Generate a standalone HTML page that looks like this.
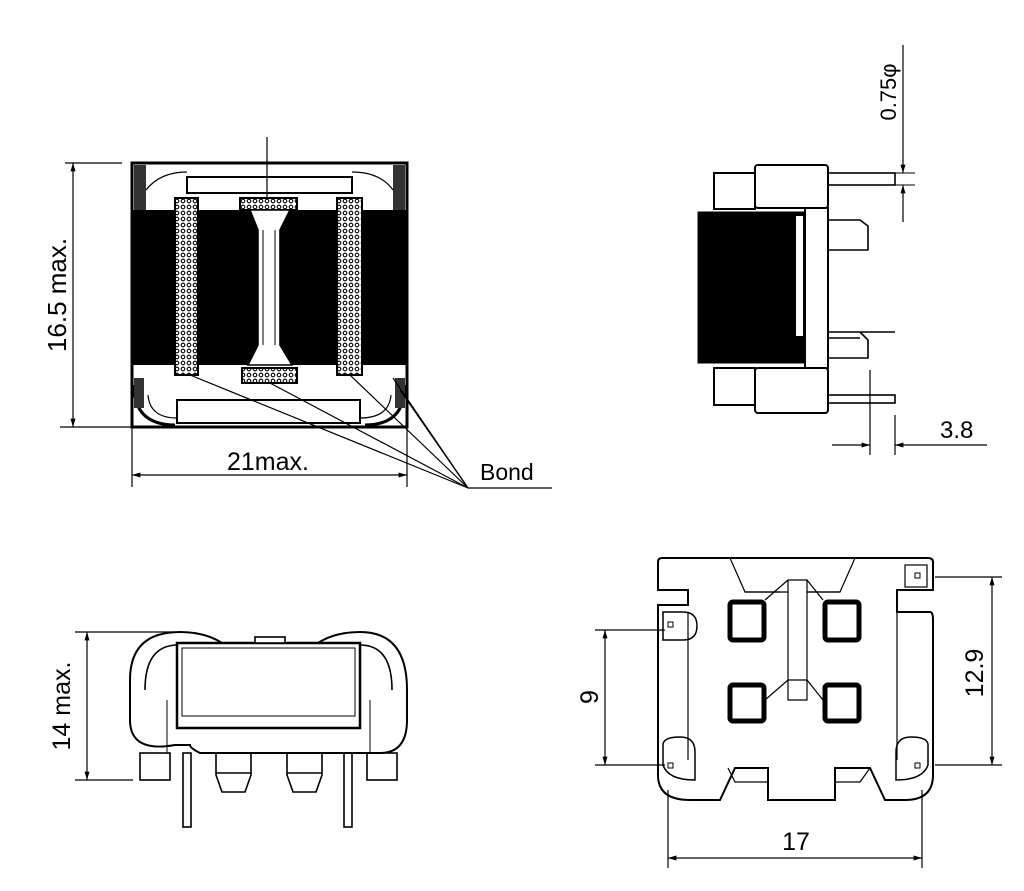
<!DOCTYPE html>
<html><head><meta charset="utf-8"><style>
html,body{margin:0;padding:0;background:#fff}
svg{display:block}
text{font-family:"Liberation Sans",sans-serif;fill:#000}
</style></head><body>
<svg width="1024" height="891" viewBox="0 0 1024 891" xmlns="http://www.w3.org/2000/svg">
<defs>
<pattern id="h" width="6" height="6" patternUnits="userSpaceOnUse">
<rect width="6" height="6" fill="#fff"/><circle cx="3" cy="3" r="1.8" fill="none" stroke="#000" stroke-width="1.1"/>
</pattern>
<marker id="a" viewBox="0 0 10 10" refX="10" refY="5" markerWidth="9" markerHeight="7" orient="auto-start-reverse"><path d="M0,2 L10,5 L0,8 z" fill="#000"/></marker>
</defs>
<g fill="none" stroke="#000" stroke-width="1.6">
<!-- ===== View 1 ===== -->
<rect x="132" y="163" width="275" height="264" fill="#fff" stroke-width="3"/>
<rect x="133" y="210" width="273" height="155" fill="#000" stroke="none"/>
<rect x="134" y="165" width="12" height="45" fill="#333" stroke="none"/>
<rect x="393" y="165" width="12" height="45" fill="#333" stroke="none"/>
<path d="M146,190 Q160,172 187,172 M393,190 Q380,172 352,172" stroke-width="1.2"/>
<rect x="187" y="177" width="165" height="16" fill="#fff" stroke-width="2"/>
<rect x="175" y="198" width="23" height="177" fill="url(#h)" stroke-width="2"/>
<rect x="337" y="198" width="25" height="177" fill="url(#h)" stroke-width="2"/>
<rect x="240" y="198" width="57" height="12" fill="url(#h)" stroke-width="2"/>
<rect x="242" y="368" width="55" height="15" fill="url(#h)" stroke-width="2"/>
<path d="M250,210 L290,210 L280,230 L280,345 L292,365 L248,365 L258,345 L258,230 Z" fill="#fff"/>
<line x1="263" y1="230" x2="263" y2="345" stroke-width="1"/>
<line x1="275" y1="230" x2="275" y2="345" stroke-width="1"/>
<rect x="177" y="400" width="183" height="23" fill="#fff" stroke-width="2"/>
<path d="M134,385 Q134,425 175,425 M405,385 Q405,425 365,425" stroke-width="3"/>
<path d="M148,395 Q150,418 177,418 M391,395 Q389,418 360,418" stroke-width="1.2"/>
<rect x="134" y="378" width="10" height="30" fill="#333" stroke="none"/>
<rect x="395" y="378" width="10" height="30" fill="#333" stroke="none"/>
<line x1="267" y1="137" x2="267" y2="198" stroke-width="1.2"/>
<!-- dims -->
<line x1="65" y1="163" x2="122" y2="163" stroke-width="1.2"/>
<line x1="60" y1="427" x2="180" y2="427" stroke-width="1.2"/>
<line x1="73" y1="163" x2="73" y2="427" stroke-width="1.2" marker-start="url(#a)" marker-end="url(#a)"/>
<line x1="132" y1="427" x2="132" y2="487" stroke-width="1.2"/>
<line x1="407" y1="427" x2="407" y2="487" stroke-width="1.2"/>
<line x1="132" y1="475" x2="407" y2="475" stroke-width="1.2" marker-start="url(#a)" marker-end="url(#a)"/>
<g stroke-width="1.2">
<line x1="190" y1="375" x2="468" y2="488"/>
<line x1="270" y1="383" x2="468" y2="488"/>
<line x1="350" y1="375" x2="468" y2="488"/>
<line x1="393" y1="378" x2="468" y2="488"/>
<line x1="400" y1="390" x2="468" y2="488"/>
<line x1="468" y1="488" x2="552" y2="488"/>
</g>
<!-- ===== View 2 ===== -->
<rect x="698" y="212" width="107" height="151" fill="#000" stroke-width="1"/>
<rect x="796" y="216" width="7" height="120" fill="#fff" stroke="none"/>
<rect x="805" y="208" width="23" height="160" fill="#fff" stroke-width="2"/>
<rect x="714" y="173" width="41" height="36" fill="#fff" stroke-width="2"/>
<rect x="755" y="165" width="73" height="43" rx="3" fill="#fff" stroke-width="2"/>
<rect x="714" y="368" width="41" height="37" fill="#fff" stroke-width="2"/>
<rect x="755" y="368" width="73" height="45" rx="3" fill="#fff" stroke-width="2"/>
<rect x="828" y="173" width="67" height="12"/>
<path d="M828,220 H860 L868,226 V250 H828"/>
<path d="M828,332 H895 M828,338 H860 M860,332 L868,340 V358 H828"/>
<rect x="828" y="395" width="67" height="8"/>
<line x1="903" y1="45" x2="903" y2="173" stroke-width="1.2" marker-end="url(#a)"/>
<line x1="903" y1="222" x2="903" y2="185" stroke-width="1.2" marker-end="url(#a)"/>
<line x1="895" y1="173" x2="915" y2="173" stroke-width="1"/>
<line x1="895" y1="185" x2="915" y2="185" stroke-width="1"/>
<line x1="870" y1="370" x2="870" y2="455" stroke-width="1.2"/>
<line x1="895" y1="415" x2="895" y2="455" stroke-width="1.2"/>
<line x1="832" y1="445" x2="870" y2="445" stroke-width="1.2" marker-end="url(#a)"/>
<line x1="987" y1="445" x2="895" y2="445" stroke-width="1.2" marker-end="url(#a)"/>
<!-- ===== View 3 ===== -->
<path d="M130,680 Q130,632 180,632 Q205,632 222,643 L318,643 Q335,632 360,632 Q407,632 407,690 L407,720 Q407,753 380,753 L200,753 Q190,748 190,745 L175,745 Q130,753 130,720 Z" fill="#fff" stroke-width="2"/>
<path d="M145,690 Q145,645 178,645 M392,690 Q392,645 360,645"/>
<rect x="177" y="643" width="183" height="85" fill="#fff" stroke-width="2.5"/>
<rect x="182" y="648" width="173" height="68" stroke-width="1"/>
<line x1="167" y1="700" x2="167" y2="753" stroke-width="1"/>
<line x1="370" y1="700" x2="370" y2="753" stroke-width="1"/>
<rect x="140" y="753" width="30" height="27"/>
<rect x="367" y="753" width="30" height="27"/>
<path d="M216,753 V775 L222,792 H245 L251,775 V753 M216,773 H251"/>
<path d="M287,753 V775 L293,792 H316 L322,775 V753 M287,773 H322"/>
<rect x="183" y="753" width="8" height="74"/>
<rect x="344" y="753" width="8" height="74"/>
<rect x="255" y="637" width="30" height="6" fill="#fff"/>
<line x1="75" y1="632" x2="175" y2="632" stroke-width="1.2"/>
<line x1="75" y1="780" x2="133" y2="780" stroke-width="1.2"/>
<line x1="87" y1="632" x2="87" y2="780" stroke-width="1.2" marker-start="url(#a)" marker-end="url(#a)"/>
<!-- ===== View 4 ===== -->
<path d="M658,562 Q658,558 662,558 L928,558 Q933,558 933,562 L933,590 L897,590 L897,612 L930,612 Q933,612 933,620 L933,775 Q933,800 905,800 L885,800 L870,768 L835,768 L835,800 L768,800 L768,768 L735,768 L720,800 L690,800 Q658,800 658,775 L658,605 L688,605 L688,590 L658,590 Z" fill="#fff" stroke-width="2"/>
<line x1="688" y1="612" x2="688" y2="760" stroke-width="1.2"/>
<line x1="897" y1="612" x2="897" y2="760" stroke-width="1.2"/>
<path d="M730,558 L745,592 H780 M855,558 L840,592 H807" stroke-width="1.2"/>
<path d="M788,580 H807 V700 H788 Z M745,592 L788,592 M807,592 L840,592 M765,600 L788,580 M823,600 L807,580 M765,700 L788,680 H807 L823,700" stroke-width="1.2"/>
<path d="M663,612 H683 Q697,612 697,626 Q697,640 683,640 H663 Z" stroke-width="1.5"/>
<path d="M663,745 Q663,737 680,737 Q695,737 695,752 V780 Q668,780 663,765 Z" stroke-width="1.5"/>
<path d="M928,745 Q928,737 911,737 Q896,737 896,752 V780 Q923,780 928,765 Z" stroke-width="1.5"/>
<rect x="905" y="565" width="22" height="22" stroke-width="1.2"/>
<rect x="668" y="622" width="5" height="5" stroke-width="1"/>
<rect x="668" y="763" width="5" height="5" stroke-width="1"/>
<rect x="915" y="763" width="5" height="5" stroke-width="1"/>
<rect x="915" y="573" width="5" height="5" stroke-width="1"/>
<path d="M728,768 L735,782 H768 M870,768 L860,782 H835" stroke-width="1.2"/>
<g stroke-width="5">
<rect x="730" y="602" width="34" height="38" rx="3"/>
<rect x="825" y="602" width="34" height="38" rx="3"/>
<rect x="730" y="685" width="34" height="36" rx="3"/>
<rect x="825" y="685" width="34" height="36" rx="3"/>
</g>
<line x1="595" y1="630" x2="665" y2="630" stroke-width="1.2"/>
<line x1="595" y1="765" x2="665" y2="765" stroke-width="1.2"/>
<line x1="605" y1="630" x2="605" y2="765" stroke-width="1.2" marker-start="url(#a)" marker-end="url(#a)"/>
<line x1="935" y1="577" x2="1002" y2="577" stroke-width="1.2"/>
<line x1="935" y1="765" x2="1002" y2="765" stroke-width="1.2"/>
<line x1="992" y1="577" x2="992" y2="765" stroke-width="1.2" marker-start="url(#a)" marker-end="url(#a)"/>
<line x1="668" y1="790" x2="668" y2="868" stroke-width="1.2"/>
<line x1="922" y1="790" x2="922" y2="868" stroke-width="1.2"/>
<line x1="668" y1="858" x2="922" y2="858" stroke-width="1.2" marker-start="url(#a)" marker-end="url(#a)"/>
</g>
<text x="0" y="0" font-size="26" text-anchor="middle" transform="translate(66,295) rotate(-90)">16.5  max.</text>
<text x="268" y="470" font-size="25" text-anchor="middle">21max.</text>
<text x="480" y="480" font-size="23">Bond</text>
<text x="0" y="0" font-size="22" text-anchor="middle" transform="translate(896,92) rotate(-90)">0.75φ</text>
<text x="940" y="438" font-size="24">3.8</text>
<text x="0" y="0" font-size="25" text-anchor="middle" transform="translate(70,706) rotate(-90)">14  max.</text>
<text x="0" y="0" font-size="25" text-anchor="middle" transform="translate(598,697) rotate(-90)">9</text>
<text x="0" y="0" font-size="25" text-anchor="middle" transform="translate(983,673) rotate(-90)">12.9</text>
<text x="796" y="850" font-size="25" text-anchor="middle">17</text>
</svg>
</body></html>
